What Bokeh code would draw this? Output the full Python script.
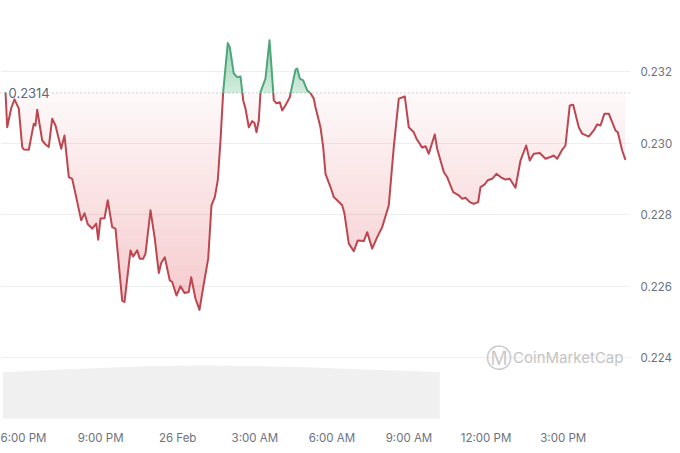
import numpy as np
from bokeh.plotting import figure
from bokeh.models import FixedTicker, Range1d, Span, Label
from bokeh.embed import file_html
from bokeh.resources import INLINE

# ---- data (hours since 25 Feb 00:00, price in USD) ----
hours = [17.300, 17.366, 17.521, 17.650, 17.817, 17.949, 18.012, 18.206, 18.401, 18.467,
         18.533, 18.728, 18.856, 18.984, 19.117, 19.245, 19.467, 19.595, 19.763, 19.895,
         20.023, 20.245, 20.374, 20.502, 20.673, 20.829, 20.907, 20.996, 21.152, 21.280,
         21.451, 21.580, 21.840, 21.930, 22.163, 22.268, 22.424, 22.525, 22.658, 22.747,
         22.942, 23.109, 23.265, 23.358, 23.498, 23.693, 23.786, 23.953, 24.109, 24.265,
         24.432, 24.525, 24.693, 24.848, 25.016, 25.187, 25.315, 25.444, 25.560, 25.665,
         25.770, 25.949, 26.027, 26.183, 26.315, 26.444, 26.549, 26.638, 26.767, 26.899,
         26.988, 27.066, 27.156, 27.222, 27.416, 27.572, 27.650, 27.739, 27.844, 27.973,
         28.066, 28.195, 28.362, 28.584, 28.650, 28.751, 28.883, 29.039, 29.167, 29.296,
         29.362, 29.556, 29.661, 29.751, 29.946, 30.074, 30.206, 30.401, 30.490, 30.658,
         30.852, 31.008, 31.241, 31.374, 31.568, 31.763, 31.957, 32.214, 32.409, 32.603,
         32.735, 32.837, 32.992, 33.187, 33.292, 33.514, 33.642, 33.770, 34.004, 34.097,
         34.354, 34.486, 34.720, 34.938, 35.070, 35.198, 35.366, 35.521, 35.693, 35.782,
         35.938, 36.066, 36.237, 36.405, 36.560, 36.755, 36.922, 37.144, 37.339, 37.560,
         37.700, 37.856, 38.089, 38.311, 38.506, 38.634, 38.767, 38.961, 39.089, 39.257,
         39.389, 39.607, 39.739, 39.996, 40.191, 40.323, 40.451, 40.607, 40.774, 40.907,
         41.035, 41.125, 41.296, 41.424]
price = [0.23142, 0.23044, 0.23097, 0.23122, 0.23096, 0.22989, 0.22982, 0.22981, 0.23054, 0.23049,
         0.23093, 0.23007, 0.22996, 0.22989, 0.23068, 0.23049, 0.22984, 0.23021, 0.22905, 0.22900,
         0.22858, 0.22784, 0.22804, 0.22773, 0.22761, 0.22775, 0.22730, 0.22789, 0.22790, 0.22840,
         0.22765, 0.22761, 0.22560, 0.22556, 0.22700, 0.22683, 0.22700, 0.22677, 0.22677, 0.22691,
         0.22812, 0.22733, 0.22637, 0.22665, 0.22681, 0.22616, 0.22612, 0.22574, 0.22600, 0.22581,
         0.22584, 0.22625, 0.22565, 0.22534, 0.22607, 0.22677, 0.22826, 0.22849, 0.22896, 0.23007,
         0.23142, 0.23279, 0.23268, 0.23194, 0.23184, 0.23186, 0.23119, 0.23096, 0.23044, 0.23061,
         0.23056, 0.23030, 0.23063, 0.23142, 0.23180, 0.23287, 0.23212, 0.23119, 0.23111, 0.23114,
         0.23091, 0.23105, 0.23128, 0.23205, 0.23208, 0.23180, 0.23175, 0.23147, 0.23139, 0.23124,
         0.23100, 0.23044, 0.22989, 0.22914, 0.22877, 0.22849, 0.22840, 0.22826, 0.22803, 0.22719,
         0.22698, 0.22728, 0.22726, 0.22751, 0.22705, 0.22737, 0.22765, 0.22826, 0.22989, 0.23124,
         0.23127, 0.23130, 0.23044, 0.23030, 0.23012, 0.22987, 0.22991, 0.22970, 0.23024, 0.22984,
         0.22919, 0.22905, 0.22863, 0.22854, 0.22844, 0.22847, 0.22835, 0.22830, 0.22835, 0.22877,
         0.22884, 0.22896, 0.22900, 0.22914, 0.22905, 0.22898, 0.22900, 0.22875, 0.22951, 0.22993,
         0.22951, 0.22970, 0.22972, 0.22956, 0.22961, 0.22965, 0.22956, 0.22981, 0.22993, 0.23105,
         0.23107, 0.23044, 0.23026, 0.23018, 0.23035, 0.23052, 0.23049, 0.23082, 0.23082, 0.23058,
         0.23035, 0.23030, 0.22979, 0.22953]
baseline = 0.2314
baseline_label = "0.2314"

tick_hours = [18, 21, 24, 27, 30, 33, 36, 39]
tick_labels = ["6:00 PM", "9:00 PM", "26 Feb", "3:00 AM", "6:00 AM", "9:00 AM", "12:00 PM", "3:00 PM"]
price_ticks = [0.224, 0.226, 0.228, 0.230, 0.232]
price_tick_labels = ["0.224", "0.226", "0.228", "0.230", "0.232"]

vol_hours = [17.2, 19.0, 21.0, 23.0, 25.0, 27.0, 29.0, 31.0, 33.0, 34.2]
volume = [1.15, 1.20, 1.25, 1.30, 1.31, 1.30, 1.27, 1.22, 1.18, 1.15]

# ---- styles ----
RED_LINE = "#bd4650"
GREEN_LINE = "#4ea67a"
RED_FILL = "#dc3d47"
GREEN_FILL = "#34a86a"
AXIS_TEXT = "#6b7280"
FONT = "Inter"

t = np.array(hours, dtype=float)
v = np.array(price, dtype=float)


def refine(tt, vv, levels):
    """Insert exact crossing points of the polyline with given levels."""
    ts, vs = [tt[0]], [vv[0]]
    for i in range(len(tt) - 1):
        t0, t1, v0, v1 = tt[i], tt[i + 1], vv[i], vv[i + 1]
        cross = []
        for L in levels:
            if (v0 - L) * (v1 - L) < 0:
                f = (L - v0) / (v1 - v0)
                cross.append((t0 + f * (t1 - t0), L))
        cross.sort()
        for ct, cv in cross:
            ts.append(ct)
            vs.append(cv)
        ts.append(t1)
        vs.append(v1)
    return np.array(ts), np.array(vs)


p = figure(frame_width=630, frame_height=420, output_backend="svg", toolbar_location=None,
           x_range=Range1d(17.105, 41.62), y_range=Range1d(0.22225, 0.23398),
           y_axis_location="right", min_border_left=0, min_border_top=0,
           min_border_right=0, min_border_bottom=0)
p.background_fill_color = "white"
p.border_fill_color = "white"
p.outline_line_color = None

# volume-like faint band at the bottom
p.extra_y_ranges = {"vol": Range1d(0, 10)}
p.varea(x=vol_hours, y1=[0.05] * len(volume), y2=volume, y_range_name="vol",
        fill_color="#f0f0f0", fill_alpha=1.0)

# gradient fills (banded)
N = 24
red_edges = np.linspace(baseline, v.min(), N + 1)
green_edges = np.linspace(baseline, v.max(), N + 1)
levels = list(red_edges) + list(green_edges[1:])
tr, vr = refine(t, v, levels)

for k in range(N):
    hi, lo = red_edges[k], red_edges[k + 1]
    y1 = np.clip(vr, lo, hi)
    a = 0.03 + 0.25 * (k + 0.5) / N
    p.varea(x=tr, y1=y1, y2=np.full_like(vr, hi), fill_color=RED_FILL, fill_alpha=a)

for k in range(N):
    lo, hi = green_edges[k], green_edges[k + 1]
    y2 = np.clip(vr, lo, hi)
    a = 0.22 + 0.28 * (k + 0.5) / N
    p.varea(x=tr, y1=np.full_like(vr, lo), y2=y2, fill_color=GREEN_FILL, fill_alpha=a)

# baseline dotted line
p.add_layout(Span(location=baseline, dimension="width", line_color="#a0a4ab",
                  line_dash="1 3", line_width=1, level="underlay"))

# split line into red/green runs
tb, vb = refine(t, v, [baseline])
runs = {"r": ([], []), "g": ([], [])}
cur, xs, ys = None, [], []
for i in range(len(tb) - 1):
    mid = 0.5 * (vb[i] + vb[i + 1])
    c = "g" if mid > baseline else "r"
    if c != cur:
        if cur is not None:
            runs[cur][0].append(xs)
            runs[cur][1].append(ys)
        cur, xs, ys = c, [tb[i]], [vb[i]]
    xs.append(tb[i + 1])
    ys.append(vb[i + 1])
runs[cur][0].append(xs)
runs[cur][1].append(ys)

p.multi_line(xs=runs["r"][0], ys=runs["r"][1], line_color=RED_LINE, line_width=2,
             line_join="round")
p.multi_line(xs=runs["g"][0], ys=runs["g"][1], line_color=GREEN_LINE, line_width=2,
             line_join="round")

# baseline label
p.add_layout(Label(x=17.3, y=baseline, text=baseline_label, text_baseline="middle",
                   text_font=FONT, text_font_size="13px", text_color="#58667e",
                   background_fill_color="white", x_offset=3))

# watermark
p.add_layout(Label(x=36.0, y=0.22400, text="Ⓜ", text_baseline="middle",
                   text_font="DejaVu Sans", text_font_size="26px", text_color="#c9c9c9"))
p.add_layout(Label(x=37.05, y=0.22400, text="CoinMarketCap", text_baseline="middle",
                   text_font=FONT, text_font_size="15px", text_color="#c4c4c4"))

# axes & grid
p.xaxis.ticker = FixedTicker(ticks=tick_hours)
p.xaxis.major_label_overrides = dict(zip(tick_hours, tick_labels))
p.yaxis.ticker = FixedTicker(ticks=price_ticks)
p.yaxis.major_label_overrides = dict(zip(price_ticks, price_tick_labels))
for ax in (p.xaxis, p.yaxis):
    ax.axis_line_color = None
    ax.major_tick_line_color = None
    ax.minor_tick_line_color = None
    ax.major_tick_out = 0
    ax.major_tick_in = 0
    ax.minor_tick_out = 0
    ax.minor_tick_in = 0
    ax.major_label_text_font = FONT
    ax.major_label_text_font_size = "11.5px"
    ax.major_label_text_color = AXIS_TEXT
    ax.major_label_standoff = 10
p.xgrid.grid_line_color = None
p.ygrid.grid_line_color = "#efefef"
p.ygrid.grid_line_width = 1

open("out.html", "w").write(file_html(p, INLINE))
